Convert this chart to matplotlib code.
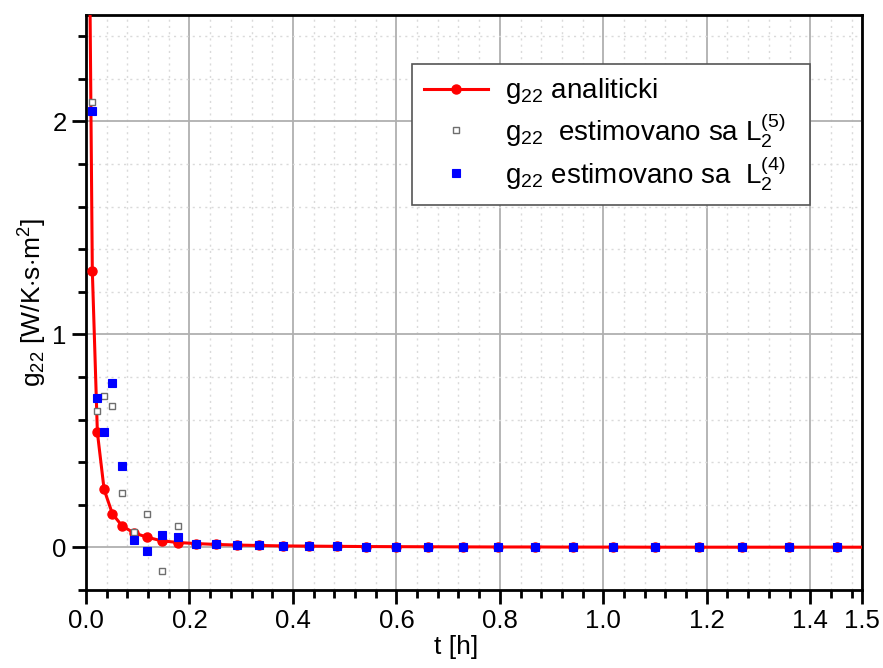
import matplotlib
matplotlib.use("Agg")
import matplotlib.pyplot as plt
from matplotlib.ticker import MultipleLocator, FixedLocator

plt.rcParams['font.family'] = ['Liberation Sans', 'DejaVu Sans']
plt.rcParams['mathtext.fontset'] = 'custom'
plt.rcParams['mathtext.rm'] = 'Liberation Sans'
plt.rcParams['mathtext.it'] = 'Liberation Sans:italic'
plt.rcParams['mathtext.bf'] = 'Liberation Sans:bold'

# time samples [h]
t_analytic = [0.0051, 0.0122, 0.022, 0.035, 0.051, 0.070, 0.093, 0.118, 0.146, 0.178,
              0.213, 0.251, 0.291, 0.335, 0.381, 0.432, 0.486, 0.541, 0.600, 0.662,
              0.728, 0.797, 0.868, 0.942, 1.019, 1.099, 1.184, 1.269, 1.358, 1.451, 1.547]
g_analytic = [3.3, 1.30, 0.54, 0.272, 0.158, 0.100, 0.068, 0.048, 0.031, 0.023,
              0.018, 0.014, 0.011, 0.009, 0.007, 0.006, 0.005, 0.004, 0.0035, 0.003,
              0.0025, 0.002, 0.002, 0.0015, 0.0015, 0.001, 0.001, 0.001, 0.001, 0.001, 0.001]

t_est = [0.0122, 0.022, 0.035, 0.051, 0.070, 0.093, 0.118, 0.146, 0.178,
         0.213, 0.251, 0.291, 0.335, 0.381, 0.432, 0.486, 0.541, 0.600, 0.662,
         0.728, 0.797, 0.868, 0.942, 1.019, 1.099, 1.184, 1.269, 1.358, 1.451]
g_est_L5 = [2.09, 0.642, 0.712, 0.662, 0.256, 0.072, 0.158, -0.112, 0.102,
            0.016, 0.014, 0.012, 0.009, 0.008, 0.006, 0.005, 0.004, 0.004, 0.003,
            0.003, 0.002, 0.002, 0.002, 0.002, 0.001, 0.001, 0.001, 0.001, 0.001]
g_est_L4 = [2.05, 0.70, 0.543, 0.77, 0.384, 0.033, -0.019, 0.056, 0.047,
            0.016, 0.014, 0.012, 0.009, 0.008, 0.006, 0.005, 0.004, 0.004, 0.003,
            0.003, 0.002, 0.002, 0.002, 0.002, 0.001, 0.001, 0.001, 0.001, 0.001]

x_ticks = [0.0, 0.2, 0.4, 0.6, 0.8, 1.0, 1.2, 1.4, 1.5]
x_tick_labels = ['0.0', '0.2', '0.4', '0.6', '0.8', '1.0', '1.2', '1.4', '1.5']
y_ticks = [0, 1, 2]

label_analytic = r'g$_{22}$ analiticki'
label_L5 = r'g$_{22}$  estimovano sa L$_{2}^{(5)}$'
label_L4 = r'g$_{22}$ estimovano sa  L$_{2}^{(4)}$'

fig = plt.figure(figsize=(8.83, 6.68), dpi=100)
ax = fig.add_axes([86 / 883, 78 / 668, 776 / 883, 575 / 668])

ax.plot(t_analytic, g_analytic, color='#ff0000', lw=2.2, marker='o', ms=6.5,
        mec='#ff0000', mfc='#ff0000', zorder=3, label=label_analytic)
ax.plot(t_est, g_est_L5, ls='none', marker='s', ms=5.0, mfc='white',
        mec='#6e6e6e', mew=1.0, zorder=4, label=label_L5)
ax.plot(t_est, g_est_L4, ls='none', marker='s', ms=5.8, mfc='#0000ff',
        mec='#0000ff', mew=0.8, zorder=5, label=label_L4)

ax.set_xlim(0.0, 1.5)
ax.set_ylim(-0.2, 2.5)

ax.xaxis.set_major_locator(FixedLocator(x_ticks))
ax.set_xticklabels(x_tick_labels)
ax.xaxis.set_minor_locator(MultipleLocator(0.04))
ax.yaxis.set_major_locator(FixedLocator(y_ticks))
ax.yaxis.set_minor_locator(MultipleLocator(0.2))

ax.grid(which='major', color='#b0b0b0', lw=1.3, ls='-', zorder=0)
ax.grid(which='minor', color='#dadada', lw=1.0, ls=(0, (1.5, 3)), zorder=0)
ax.set_axisbelow(True)

for side in ['left', 'right', 'top', 'bottom']:
    ax.spines[side].set_linewidth(2.0)
    ax.spines[side].set_color('black')

ax.tick_params(which='major', direction='out', length=10, width=2, labelsize=18.5,
               pad=4, top=False, right=False)
ax.tick_params(which='minor', direction='out', length=6, width=2, top=False, right=False)

ax.set_xlabel('t [h]', fontsize=19, labelpad=1)
ax.xaxis.label.set_x(0.477)
ax.set_ylabel(r'g$_{22}$ [W/K$\cdot$s$\cdot$m$^{2}$]', fontsize=19, labelpad=2)

leg = ax.legend(loc='upper left', bbox_to_anchor=(0.42, 0.0, 0.513, 0.915),
                mode='expand', borderaxespad=0,
                numpoints=1, fontsize=20, frameon=True, fancybox=False,
                edgecolor='#555555', framealpha=1.0, handlelength=2.3,
                handletextpad=0.6, labelspacing=0.15, borderpad=0.45)
leg.get_frame().set_linewidth(1.2)

fig.savefig('out.png', dpi=100)
